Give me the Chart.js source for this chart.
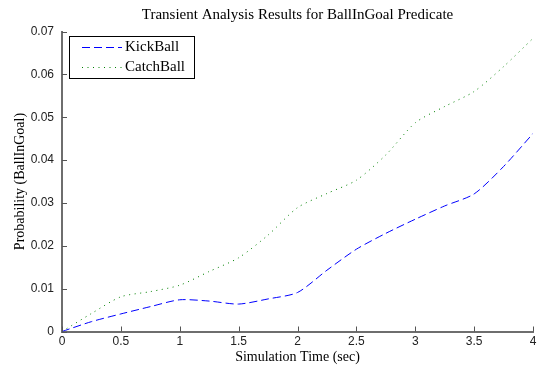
<!DOCTYPE html>
<html>
<head>
<meta charset="utf-8">
<script src="https://cdn.jsdelivr.net/npm/chart.js@4.4.0/dist/chart.umd.min.js"></script>
<style>
  html, body { margin: 0; padding: 0; background: #fff; }
</style>
</head>
<body>
<canvas id="transientChart" width="543" height="369"></canvas>
<script>
// values
const timeSec = [0, 0.25, 0.5, 0.75, 1, 1.25, 1.5, 1.75, 2, 2.25, 2.5, 2.75, 3, 3.25, 3.5, 3.75, 4];
const kickBall = [0, 0.0023, 0.0041, 0.0058, 0.0074, 0.0071, 0.0064, 0.0076, 0.0091, 0.0143, 0.0192, 0.0229, 0.0262, 0.0293, 0.0321, 0.0385, 0.0462];
const catchBall = [0, 0.0042, 0.0081, 0.0093, 0.0108, 0.0140, 0.0172, 0.0225, 0.0289, 0.0322, 0.0353, 0.0412, 0.0487, 0.0525, 0.0560, 0.0618, 0.0684];
const xTicks = [0, 0.5, 1, 1.5, 2, 2.5, 3, 3.5, 4];
const yTicks = [0, 0.01, 0.02, 0.03, 0.04, 0.05, 0.06, 0.07];

const serif = "'Liberation Serif', 'Times New Roman', serif";
const sans = "'Liberation Sans', Arial, sans-serif";

function toPoints(ys) {
  return timeSec.map((t, i) => ({ x: t, y: ys[i] }));
}

function fmtTick(v) {
  if (v === 0) return "0";
  return String(parseFloat(v.toFixed(2)));
}

// small inward tick marks, matlab style
const innerTicks = {
  id: "innerTicks",
  afterDraw(chart) {
    const { ctx, chartArea, scales } = chart;
    ctx.save();
    ctx.strokeStyle = "#555";
    ctx.lineWidth = 1;
    ctx.beginPath();
    scales.x.ticks.forEach((tk) => {
      const px = Math.round(scales.x.getPixelForValue(tk.value)) + 0.5;
      ctx.moveTo(px, chartArea.bottom);
      ctx.lineTo(px, chartArea.bottom - 5);
    });
    scales.y.ticks.forEach((tk) => {
      const py = Math.round(scales.y.getPixelForValue(tk.value)) + 0.5;
      ctx.moveTo(chartArea.left, py);
      ctx.lineTo(chartArea.left + 5, py);
    });
    ctx.stroke();
    ctx.restore();
  },
};

// boxed legend inside the top-left corner of the axes
const boxLegend = {
  id: "boxLegend",
  afterDraw(chart) {
    const { ctx, chartArea } = chart;
    const x0 = chartArea.left + 7;
    const y0 = chartArea.top + 4.5;
    ctx.save();
    ctx.fillStyle = "#fff";
    ctx.fillRect(x0, y0, 125, 42);
    ctx.strokeStyle = "#000";
    ctx.lineWidth = 1;
    ctx.strokeRect(Math.round(x0) + 0.5, Math.round(y0) + 0.5, 125, 42);
    ctx.font = "15px " + serif;
    ctx.textBaseline = "middle";
    chart.data.datasets.forEach((ds, i) => {
      const y = Math.round(y0 + 10.5 + i * 20) + 0.5;
      ctx.strokeStyle = ds.borderColor;
      ctx.setLineDash(ds.borderDash || []);
      ctx.beginPath();
      ctx.moveTo(x0 + 13, y);
      ctx.lineTo(x0 + 53, y);
      ctx.stroke();
      ctx.setLineDash([]);
      ctx.fillStyle = "#000";
      ctx.fillText(ds.label, x0 + 56, y);
    });
    ctx.restore();
  },
};

const ctx = document.getElementById("transientChart").getContext("2d");
new Chart(ctx, {
  type: "line",
  data: {
    datasets: [
      {
        label: "KickBall",
        data: toPoints(kickBall),
        borderColor: "#0000ff",
        borderWidth: 1,
        borderDash: [8, 4],
        pointRadius: 0,
        tension: 0.25,
        fill: false,
      },
      {
        label: "CatchBall",
        data: toPoints(catchBall),
        borderColor: "#008000",
        borderWidth: 1,
        borderDash: [1, 4.5],
        pointRadius: 0,
        tension: 0.25,
        fill: false,
      },
    ],
  },
  options: {
    responsive: false,
    animation: false,
    layout: { padding: { left: 0, right: 10, top: 0, bottom: 0 } },
    plugins: {
      legend: { display: false },
      tooltip: { enabled: false },
      title: {
        display: true,
        fullSize: false,
        text: "Transient Analysis Results for BallInGoal Predicate",
        color: "#000",
        font: { family: serif, size: 15, weight: "normal" },
        padding: { top: 6, bottom: 7.5 },
      },
    },
    scales: {
      x: {
        type: "linear",
        min: 0,
        max: 4,
        afterBuildTicks: (s) => {
          s.ticks = xTicks.map((v) => ({ value: v }));
        },
        afterFit: (s) => {
          s.height = 37.5;
        },
        ticks: {
          callback: fmtTick,
          color: "#222",
          font: { family: sans, size: 12 },
          padding: 3,
          maxRotation: 0,
        },
        grid: { display: false, drawTicks: false },
        border: { display: true, color: "#6e6e6e", width: 2 },
        title: {
          display: true,
          text: "Simulation Time (sec)",
          color: "#000",
          font: { family: serif, size: 14 },
          padding: { top: 0, bottom: 3 },
        },
      },
      y: {
        type: "linear",
        min: 0,
        max: 0.07,
        afterBuildTicks: (s) => {
          s.ticks = yTicks.map((v) => ({ value: v }));
        },
        afterFit: (s) => {
          s.width = 62;
        },
        ticks: {
          callback: fmtTick,
          color: "#222",
          font: { family: sans, size: 12 },
          padding: 8,
        },
        grid: { display: false, drawTicks: false },
        border: { display: true, color: "#6e6e6e", width: 2 },
        title: {
          display: true,
          text: "Probability (BallInGoal)",
          color: "#000",
          font: { family: serif, size: 14 },
          padding: { top: 12, bottom: 0 },
        },
      },
    },
  },
  plugins: [innerTicks, boxLegend],
});
</script>
</body>
</html>
